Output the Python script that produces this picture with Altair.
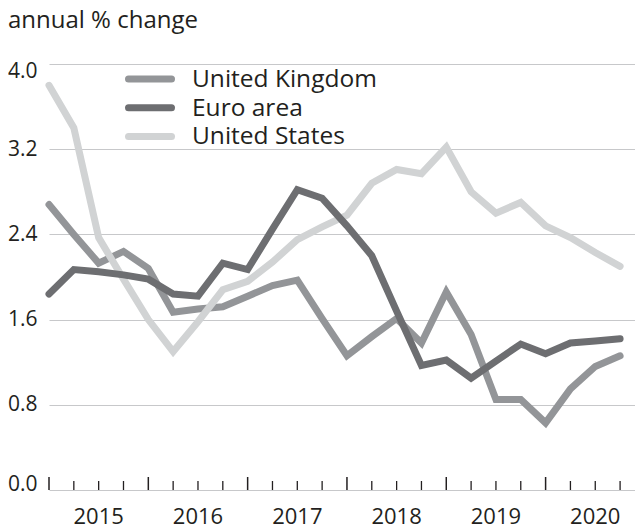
import altair as alt
import pandas as pd

# ---- data (quarterly, 2015 Q1 .. 2020 Q4) ----
quarters = list(range(24))
uk = [2.68, 2.40, 2.13, 2.24, 2.08, 1.67, 1.70, 1.72, 1.82, 1.92, 1.97, 1.61,
      1.26, 1.44, 1.61, 1.38, 1.86, 1.46, 0.85, 0.85, 0.63, 0.95, 1.16, 1.26]
euro = [1.84, 2.07, 2.05, 2.02, 1.98, 1.84, 1.82, 2.13, 2.07, 2.45, 2.82, 2.74,
        2.48, 2.20, 1.68, 1.17, 1.22, 1.05, 1.21, 1.37, 1.28, 1.38, 1.40, 1.42]
us = [3.80, 3.40, 2.37, 1.98, 1.60, 1.30, 1.58, 1.88, 1.96, 2.14, 2.35, 2.47,
      2.58, 2.88, 3.01, 2.97, 3.22, 2.80, 2.60, 2.70, 2.48, 2.37, 2.23, 2.10]
series = ["United Kingdom", "Euro area", "United States"]
colors = ["#939598", "#6d6e71", "#d1d3d4"]
years = ["2015", "2016", "2017", "2018", "2019", "2020"]
year_centres = [2, 6, 10, 14, 18, 22]
major_ticks = [0, 4, 8, 12, 16, 20]
minor_ticks = [q for q in quarters if q not in major_ticks]
y_ticks = [0.0, 0.8, 1.6, 2.4, 3.2, 4.0]
y_title = "annual % change"

rows = []
for name, vals in [("United Kingdom", uk), ("United States", us), ("Euro area", euro)]:
    for q, v in zip(quarters, vals):
        rows.append({"q": q, "v": v, "series": name})
df = pd.DataFrame(rows)

W, H = 586, 426
TXT = "#231f20"
FONT = "Open Sans"

xscale = alt.Scale(domain=[0, W / 24.83], nice=False, zero=False)
yscale = alt.Scale(domain=[0, 4], nice=False)
cscale = alt.Scale(domain=series, range=colors)

lines = alt.Chart(df).mark_line(
    strokeWidth=7, strokeCap="round", strokeJoin="miter"
).encode(
    x=alt.X("q:Q", scale=xscale, axis=alt.Axis(
        labels=False, ticks=False, grid=False,
        domain=True, domainColor=TXT, domainWidth=1.3, title=None)),
    y=alt.Y("v:Q", scale=yscale, axis=alt.Axis(
        values=y_ticks, format=".1f", grid=True, gridColor="#c7c8ca",
        gridWidth=1, domain=False, ticks=False, labelPadding=12,
        labelFontSize=21, labelFont=FONT, labelColor=TXT,
        labelFlush=True, labelFlushOffset=4, title=None)),
    color=alt.Color("series:N", scale=cscale, legend=None),
)

major = alt.Chart(pd.DataFrame({"q": major_ticks})).mark_rule(
    color=TXT, strokeWidth=1.5
).encode(
    x=alt.X("q:Q", scale=xscale, axis=None),
    y=alt.value(H), y2=alt.value(H - 13),
)
minor = alt.Chart(pd.DataFrame({"q": minor_ticks})).mark_rule(
    color=TXT, strokeWidth=1.3
).encode(
    x=alt.X("q:Q", scale=xscale, axis=None),
    y=alt.value(H), y2=alt.value(H - 9),
)

year_labels = alt.Chart(pd.DataFrame({"q": year_centres, "year": years})).mark_text(
    align="center", baseline="top", font=FONT, fontSize=22, color=TXT
).encode(
    x=alt.X("q:Q", scale=xscale, axis=None),
    y=alt.value(H + 17),
    text="year:N",
)

title = alt.Chart(pd.DataFrame({"t": [y_title]})).mark_text(
    align="left", baseline="alphabetic", font=FONT, fontSize=24, color=TXT
).encode(
    text="t:N", x=alt.value(-41), y=alt.value(-36),
)

# hand-made legend, one row per series
legend_layers = []
for i, name in enumerate(series):
    row_y = 15 + i * 28.7
    ldf = pd.DataFrame({"series": [name]})
    legend_layers.append(
        alt.Chart(ldf).mark_rule(strokeWidth=7, strokeCap="round").encode(
            x=alt.value(79.5), x2=alt.value(122.5), y=alt.value(row_y),
            color=alt.Color("series:N", scale=cscale, legend=None),
        )
    )
    legend_layers.append(
        alt.Chart(ldf).mark_text(
            align="left", baseline="alphabetic", font=FONT, fontSize=24.5,
            color=TXT
        ).encode(
            x=alt.value(143), y=alt.value(row_y + 8), text="series:N",
        )
    )

chart = alt.layer(lines, major, minor, year_labels, title, *legend_layers).properties(
    width=W, height=H,
    autosize=alt.AutoSizeParams(type="none"),
    padding={"left": 41, "top": 56, "right": 0, "bottom": 34},
).configure_view(stroke=None)

chart.save("out.html", embed_options={"renderer": "svg", "actions": False})
